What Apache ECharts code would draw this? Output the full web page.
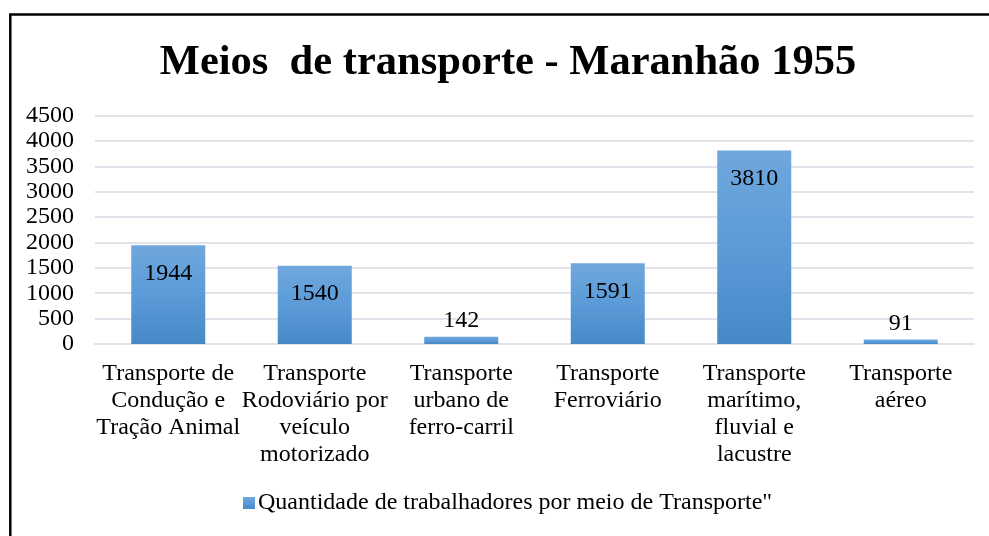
<!DOCTYPE html>
<html>
<head>
<meta charset="utf-8">
<script src="https://cdn.jsdelivr.net/npm/echarts@6/dist/echarts.min.js"></script>
<style>
html,body{margin:0;padding:0;background:#fff;}
#chart{width:989px;height:536px;}
</style>
</head>
<body>
<div id="chart"></div>
<script>
var titleText = 'Meios  de transporte - Maranhão 1955';
var seriesName = 'Quantidade de trabalhadores por meio de Transporte"';
var categories = [
  'Transporte de\nCondução e\nTração Animal',
  'Transporte\nRodoviário por\nveículo\nmotorizado',
  'Transporte\nurbano de\nferro-carril',
  'Transporte\nFerroviário',
  'Transporte\nmarítimo,\nfluvial e\nlacustre',
  'Transporte\naéreo'
];
var values = [1944, 1540, 142, 1591, 3810, 91];
var yTicks = {min: 0, max: 4500, interval: 500};

var FONT = '"Liberation Serif", "Times New Roman", serif';
var chart = echarts.init(document.getElementById('chart'));
var barColor = new echarts.graphic.LinearGradient(0, 0, 0, 1, [
  {offset: 0, color: '#70a7dd'},
  {offset: 0.5, color: '#5b9bd8'},
  {offset: 1, color: '#4788c7'}
]);
var data = values.map(function (v) {
  var small = v < 500;
  return {
    value: v,
    label: small ? {position: 'top', distance: 4} : {position: 'insideTop', distance: 16}
  };
});
chart.setOption({
  animation: false,
  backgroundColor: '#ffffff',
  textStyle: {fontFamily: FONT},
  title: {
    text: titleText,
    left: 503,
    top: 37,
    textAlign: 'center',
    textStyle: {fontFamily: FONT, fontSize: 42.5, fontWeight: 'bold', color: '#000'}
  },
  graphic: [{
    type: 'rect',
    shape: {x: 10.3, y: 14.5, width: 1200, height: 800},
    style: {fill: null, stroke: '#000', lineWidth: 2.5},
    silent: true
  }],
  legend: {
    bottom: 16,
    left: 238,
    itemWidth: 12,
    itemHeight: 12,
    itemGap: 10,
    icon: 'rect',
    textStyle: {fontFamily: FONT, fontSize: 24, color: '#000', padding: [0, 0, 0, -2]},
    data: [seriesName]
  },
  grid: {left: 95, right: 15, top: 115.5, bottom: 192},
  xAxis: {
    type: 'category',
    data: categories,
    axisTick: {show: false},
    axisLine: {lineStyle: {color: '#e0e4ea', width: 2}},
    axisLabel: {
      interval: 0,
      color: '#000',
      fontFamily: FONT,
      fontSize: 24,
      lineHeight: 27,
      margin: 16,
      align: 'center'
    }
  },
  yAxis: {
    type: 'value',
    min: yTicks.min,
    max: yTicks.max,
    interval: yTicks.interval,
    axisLine: {show: false},
    axisTick: {show: false},
    splitLine: {lineStyle: {color: '#e0e4ea', width: 2}},
    axisLabel: {
      color: '#000', fontFamily: FONT, fontSize: 24, margin: 21,
      formatter: function (v) { return String(v); }
    }
  },
  series: [{
    name: seriesName,
    type: 'bar',
    data: data,
    barWidth: 74,
    itemStyle: {color: barColor},
    label: {
      show: true,
      color: '#000',
      fontFamily: FONT,
      fontSize: 24
    }
  }]
});
</script>
</body>
</html>
